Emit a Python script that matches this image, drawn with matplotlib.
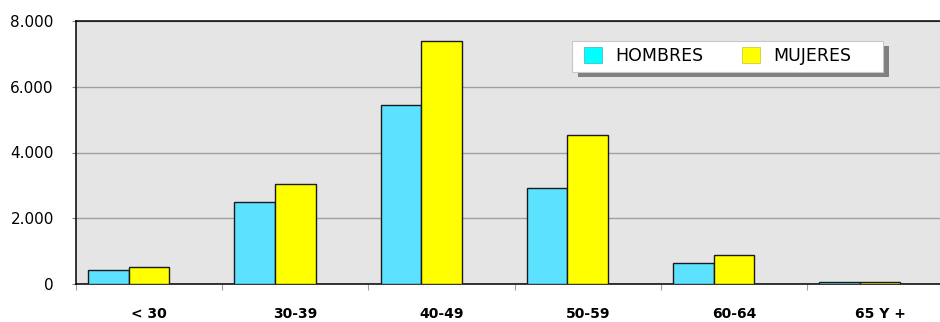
import numpy as np
import matplotlib.pyplot as plt
from matplotlib.patches import Rectangle, Patch

categorias = ['< 30', '30-39', '40-49', '50-59', '60-64', '65 Y +']
hombres = [430, 2500, 5450, 2920, 640, 70]
mujeres = [520, 3050, 7400, 4530, 880, 70]
y_ticks = [0, 2000, 4000, 6000, 8000]
y_labels = ['0', '2.000', '4.000', '6.000', '8.000']

W, H = 940, 322
fig = plt.figure(figsize=(W / 100, H / 100), dpi=100)

# area del grafico (en pixeles de la imagen)
left, right, top, bottom = 76, 940, 21, 284
ax = fig.add_axes([left / W, 1 - bottom / H, (right - left) / W, (bottom - top) / H])
ax.set_facecolor('#E5E5E5')

x = np.arange(len(categorias))
ancho = 0.2774
ax.bar(x - ancho, hombres, width=ancho, align='center', color='#5CE1FF',
       edgecolor='#1a1a1a', linewidth=1.0, zorder=3)
ax.bar(x, mujeres, width=ancho, align='center', color='#FFFF00',
       edgecolor='#1a1a1a', linewidth=1.0, zorder=3)

ax.set_xlim(-0.5, -0.5 + (right - left) / 146.2)
ax.set_ylim(0, 8000)

ax.set_yticks(y_ticks)
ax.set_yticklabels(y_labels, fontsize=11)
ax.yaxis.grid(True, color='#A0A0A0', linewidth=1.0, zorder=0)
ax.tick_params(axis='y', length=3, color='#808080', pad=13)

ax.set_xticks(x - 0.5, minor=False)
ax.set_xticklabels([''] * len(x))
ax.set_xticks(x, minor=True)
ax.set_xticklabels(categorias, minor=True, fontsize=10, fontweight='bold')
ax.tick_params(axis='x', which='major', length=4, color='#A0A0A0')
ax.tick_params(axis='x', which='minor', length=0, pad=16.5)

for s in ['left', 'top', 'bottom']:
    ax.spines[s].set_color('black')
    ax.spines[s].set_linewidth(1.1)
ax.spines['right'].set_visible(False)

# leyenda con sombra
bx0, by0, bx1, by1 = 571.7, 40.7, 882.7, 71.7
fig.patches.append(Rectangle(((bx0 + 6) / W, 1 - (by1 + 5) / H), (bx1 - bx0) / W, (by1 - by0) / H,
                             transform=fig.transFigure, facecolor='#808080', edgecolor='none', zorder=5))
fig.patches.append(Rectangle((bx0 / W, 1 - by1 / H), (bx1 - bx0) / W, (by1 - by0) / H,
                             transform=fig.transFigure, facecolor='white', edgecolor='#C8C8C8',
                             linewidth=0.8, zorder=6))
handles = [Patch(facecolor='#00FFFF', edgecolor='#40B0B0', linewidth=0.5),
           Patch(facecolor='#FFFF00', edgecolor='#C0C040', linewidth=0.5)]
leg = fig.legend(handles, ['HOMBRES', 'MUJERES'], loc='center left',
                 bbox_to_anchor=(583.7 / W, 1 - 56.2 / H), ncol=2, frameon=False,
                 fontsize=12.5, handlelength=1.04, handleheight=1.04, handletextpad=0.75,
                 columnspacing=2.25, borderpad=0, borderaxespad=0)
leg.set_zorder(7)

fig.savefig('out.png', dpi=100)
